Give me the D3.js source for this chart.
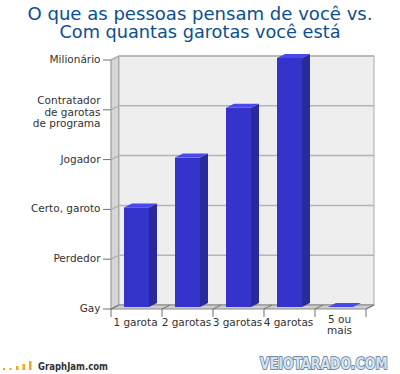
<!DOCTYPE html>
<html>
<head>
<meta charset="utf-8">
<script src="https://cdn.jsdelivr.net/npm/d3@7"></script>
<style>
  body { margin: 0; background: #fff; }
  svg { display: block; }
</style>
</head>
<body>
<div id="chart"></div>
<script>
var titleLines = ["O que as pessoas pensam de você vs.", "Com quantas garotas você está"];
var categories = [["1 garota"], ["2 garotas"], ["3 garotas"], ["4 garotas"], ["5 ou", "mais"]];
var values = [2, 3, 4, 5, 0];
var levelLabels = [["Gay"], ["Perdedor"], ["Certo, garoto"], ["Jogador"],
                   ["Contratador", "de garotas", "de programa"], ["Milionário"]];

var width = 400, height = 374;
var depthX = 8, depthY = 4;

var svg = d3.select("#chart").append("svg")
    .attr("width", width)
    .attr("height", height);

// title
svg.selectAll(".title")
    .data(titleLines)
  .enter().append("text")
    .attr("class", "title")
    .attr("x", 200)
    .attr("y", function(d, i) { return 19.5 + i * 18.5; })
    .attr("text-anchor", "middle")
    .attr("textLength", function(d, i) { return i == 0 ? 345 : 281; })
    .attr("lengthAdjust", "spacingAndGlyphs")
    .style("font-family", "'DejaVu Sans Condensed', 'Liberation Sans Narrow', sans-serif")
    .style("font-size", "17px")
    .style("fill", "#0c4f8e")
    .text(function(d) { return d; });

// back wall scale (y) and front band scale (x)
var y = d3.scaleLinear().domain([0, levelLabels.length - 1]).range([305, 56]);
var x = d3.scaleBand().domain(d3.range(categories.length)).range([111, 366]);

var x0 = x.range()[0], x1 = x.range()[1];

// left wall
svg.append("polygon")
    .attr("points", [[x0, y(5) + depthY], [x0 + depthX, y(5)], [x0 + depthX, y(0)], [x0, y(0) + depthY]].join(" "))
    .style("fill", "#d6d6d6")
    .style("stroke", "#8a8a8a")
    .style("stroke-width", 1);

// back wall
svg.append("rect")
    .attr("x", x0 + depthX)
    .attr("y", y(5))
    .attr("width", x1 - x0)
    .attr("height", y(0) - y(5))
    .style("fill", "#eeeeee")
    .style("stroke", "#a8a8a8")
    .style("stroke-width", 1);

// grid lines
var levels = d3.range(levelLabels.length);
svg.selectAll(".grid")
    .data(levels)
  .enter().append("polyline")
    .attr("class", "grid")
    .attr("points", function(d) {
      return [[x0, y(d) + depthY], [x0 + depthX, y(d)], [x1 + depthX, y(d)]].join(" ");
    })
    .style("fill", "none")
    .style("stroke", "#b4b4b4")
    .style("stroke-width", 1.5);

// floor
svg.append("polygon")
    .attr("points", [[x0, y(0) + depthY], [x0 + depthX, y(0)], [x1 + depthX, y(0)], [x1, y(0) + depthY]].join(" "))
    .style("fill", "#cdcdcd")
    .style("stroke", "#8a8a8a")
    .style("stroke-width", 1);

// floor ticks
var bounds = d3.range(categories.length + 1).map(function(i) { return x0 + i * x.bandwidth(); });
svg.selectAll(".ftick")
    .data(bounds)
  .enter().append("polyline")
    .attr("class", "ftick")
    .attr("points", function(d) {
      return [[d, y(0) + depthY + 8], [d, y(0) + depthY], [d + depthX, y(0)]].join(" ");
    })
    .style("fill", "none")
    .style("stroke", "#707070")
    .style("stroke-width", 1);

// y ticks
svg.selectAll(".ytick")
    .data(levels)
  .enter().append("line")
    .attr("class", "ytick")
    .attr("x1", x0 - 8)
    .attr("x2", x0)
    .attr("y1", function(d) { return y(d) + depthY; })
    .attr("y2", function(d) { return y(d) + depthY; })
    .style("stroke", "#707070")
    .style("stroke-width", 1);

// y labels
var ylab = svg.selectAll(".ylab")
    .data(levels)
  .enter().append("text")
    .attr("class", "ylab")
    .attr("text-anchor", "end")
    .style("font-family", "'DejaVu Sans', Verdana, sans-serif")
    .style("font-size", "10.5px")
    .style("fill", "#333");

ylab.each(function(d) {
  var lines = levelLabels[d];
  var n = lines.length;
  var base = y(d) + depthY + 3 + (n > 1 ? 3 : 0);
  d3.select(this).selectAll("tspan")
      .data(lines)
    .enter().append("tspan")
      .attr("x", 100.5)
      .attr("y", function(t, i) { return base + (i - (n - 1) / 2) * 11.5; })
      .text(function(t) { return t; });
});

// bars
var barW = 25, barOff = 13;
var bars = svg.selectAll(".bar")
    .data(values)
  .enter().append("g")
    .attr("class", "bar");

bars.append("polygon")
    .attr("points", function(d, i) {
      var bx = x(i) + barOff, top = y(d) + 2, bot = y(0) + 2;
      return [[bx + barW, top], [bx + barW + depthX, top - depthY], [bx + barW + depthX, bot - depthY], [bx + barW, bot]].join(" ");
    })
    .style("fill", "#2a2a9e");

bars.append("rect")
    .attr("x", function(d, i) { return x(i) + barOff; })
    .attr("y", function(d) { return y(d) + 2; })
    .attr("width", barW)
    .attr("height", function(d) { return y(0) - y(d); })
    .style("fill", "#3434cc");

bars.append("polygon")
    .attr("points", function(d, i) {
      var bx = x(i) + barOff, top = y(d) + 2;
      return [[bx, top], [bx + depthX, top - depthY], [bx + barW + depthX, top - depthY], [bx + barW, top]].join(" ");
    })
    .style("fill", "#4848ec");

// x labels
var xlab = svg.selectAll(".xlab")
    .data(categories)
  .enter().append("text")
    .attr("class", "xlab")
    .attr("text-anchor", "middle")
    .style("font-family", "'DejaVu Sans', Verdana, sans-serif")
    .style("font-size", "10.5px")
    .style("fill", "#333");

xlab.each(function(lines, i) {
  var cx = x(i) + x.bandwidth() / 2 - 1;
  d3.select(this).selectAll("tspan")
      .data(lines)
    .enter().append("tspan")
      .attr("x", cx)
      .attr("y", function(t, j) { return (lines.length > 1 ? 323 : 325.5) + j * 10.5; })
      .text(function(t) { return t; });
});

// GraphJam logo
var logoBars = [2, 2, 4, 6, 9];
svg.selectAll(".logo")
    .data(logoBars)
  .enter().append("rect")
    .attr("class", "logo")
    .attr("x", function(d, i) { return 3 + i * 6.5; })
    .attr("y", function(d) { return 370 - d; })
    .attr("width", function(d, i) { return i < 2 ? 2 : 2.5; })
    .attr("height", function(d) { return d; })
    .style("fill", "#f0a818");

svg.append("text")
    .attr("x", 38)
    .attr("y", 370)
    .attr("textLength", 70)
    .attr("lengthAdjust", "spacingAndGlyphs")
    .style("font-family", "'DejaVu Sans', Verdana, sans-serif")
    .style("font-weight", "bold")
    .style("font-size", "10px")
    .style("fill", "#333")
    .text("GraphJam.com");

// watermark, squeezed to fit its box
var wm = svg.append("text")
    .attr("x", 0)
    .attr("y", 0)
    .style("font-family", "'DejaVu Sans', sans-serif")
    .style("font-weight", "bold")
    .style("font-size", "15px")
    .style("fill", "#d4e2f0")
    .style("stroke", "#56718f")
    .style("stroke-width", 1.6)
    .style("paint-order", "stroke")
    .text("VEIOTARADO.COM");
var wmLen = wm.node().getComputedTextLength();
wm.attr("transform", "translate(260,369) scale(" + (128 / wmLen) + ",1)");
</script>
</body>
</html>
